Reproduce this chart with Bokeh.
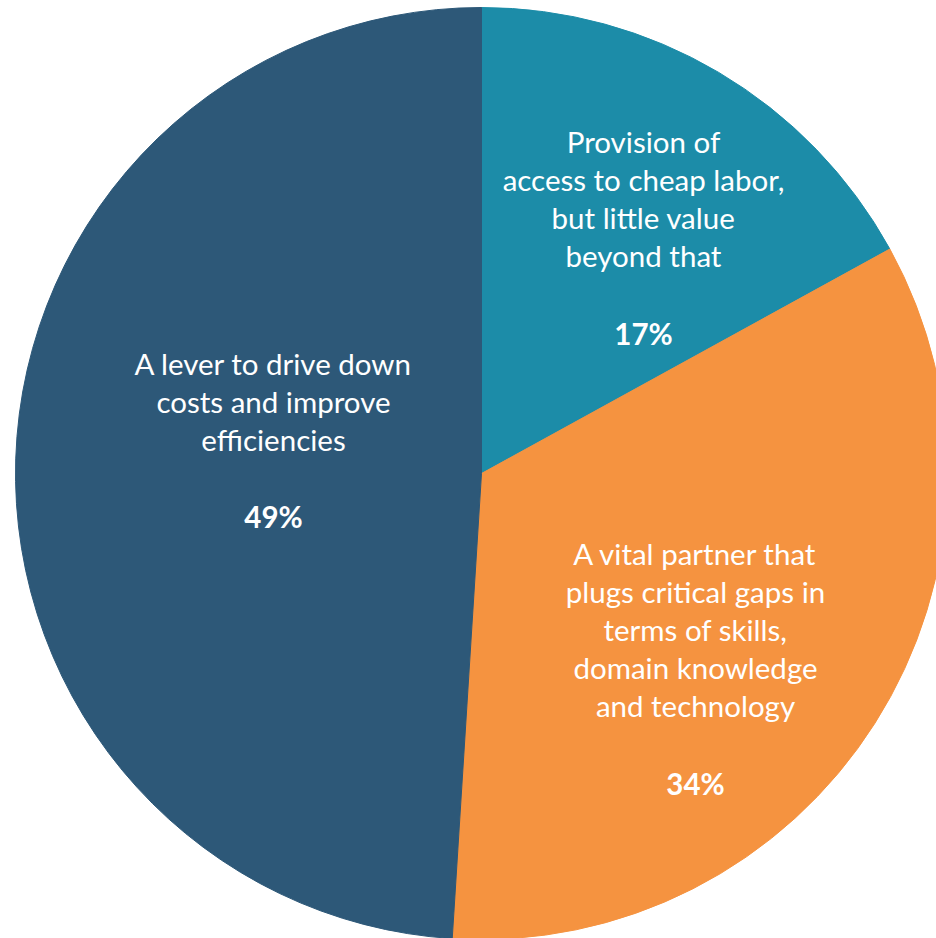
import math
from bokeh.plotting import figure
from bokeh.models import ColumnDataSource
from bokeh.core.properties import value
from bokeh.embed import file_html
from bokeh.resources import INLINE

# ---- data ----
categories = [
    "Provision of\naccess to cheap labor,\nbut little value\nbeyond that",
    "A vital partner that\nplugs critical gaps in\nterms of skills,\ndomain knowledge\nand technology",
    "A lever to drive down\ncosts and improve\nefficiencies",
]
shares = [17, 34, 49]
colors = ["#1c8ca8", "#f59340", "#2d5878"]

# ---- layout (pixel-like data space, y up) ----
W, H = 936, 938
cx, cy, R = 481, H - 473, 466
# label anchor (center x, center y of first line) in screen px
label_pos = [(643, 141), (695, 553), (273, 363)]
pct_pos = [(643, 333), (695, 783), (273, 516)]
LINE = 38
FONT = "Lato"
FS = "29.5px"

total = sum(shares)
starts, ends = [], []
cum = 0.0
for v in shares:
    a0 = math.pi / 2 - 2 * math.pi * (cum + v) / total
    a1 = math.pi / 2 - 2 * math.pi * cum / total
    starts.append(a0)
    ends.append(a1)
    cum += v

src = ColumnDataSource(dict(x=[cx] * 3, y=[cy] * 3, start=starts, end=ends, color=colors))

p = figure(width=W, height=H, x_range=(0, W), y_range=(0, H),
           output_backend="svg", toolbar_location=None, min_border=0)
p.axis.visible = False
p.grid.visible = False
p.outline_line_color = None
p.background_fill_color = "white"

p.wedge(x="x", y="y", radius=R, radius_units="data", start_angle="start", end_angle="end",
        fill_color="color", line_color="color", line_width=1, source=src)

lx, ly, lt = [], [], []
for cat, (x0, y0) in zip(categories, label_pos):
    for i, line in enumerate(cat.split("\n")):
        lx.append(x0)
        ly.append(H - (y0 + i * LINE))
        lt.append(line)
p.text(x=lx, y=ly, text=lt, text_align="center", text_baseline="middle",
       text_color="white", text_font=value(FONT), text_font_size=FS)

px = [pp[0] for pp in pct_pos]
py = [H - pp[1] for pp in pct_pos]
pt = [f"{v}%" for v in shares]
p.text(x=px, y=py, text=pt, text_align="center", text_baseline="middle",
       text_color="white", text_font=value(FONT), text_font_size=FS, text_font_style="bold")

open("out.html", "w").write(file_html(p, INLINE))
